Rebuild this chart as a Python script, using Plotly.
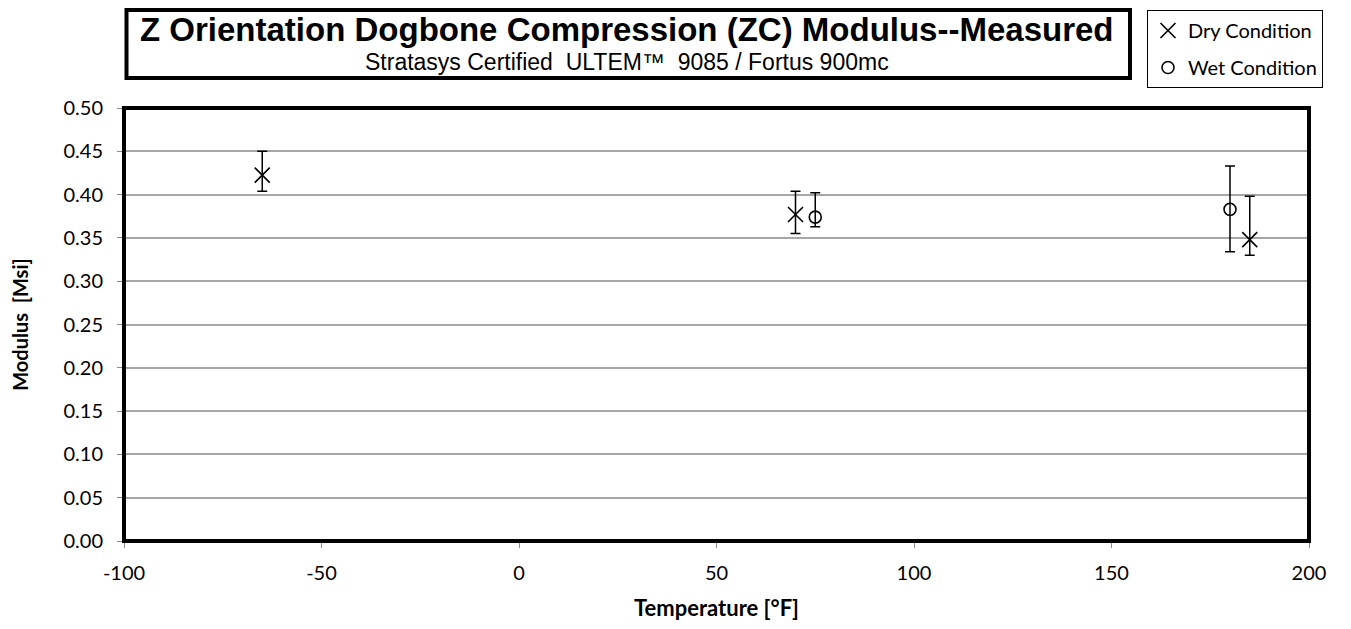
import plotly.graph_objects as go

# Dry condition
dry_temp = [-65, 70, 185]
dry_mod = [0.4225, 0.377, 0.348]
dry_hi = [0.450, 0.404, 0.398]
dry_lo = [0.404, 0.355, 0.330]

# Wet condition
wet_temp = [75, 180]
wet_mod = [0.374, 0.383]
wet_hi = [0.402, 0.433]
wet_lo = [0.363, 0.334]

x_ticks = [-100, -50, 0, 50, 100, 150, 200]
x_ticktext = ["-100", "-50", "0", "50", "100", "150", "200"]

# the page body has an 8px margin, so the figure is drawn 8px smaller
OFF = 8
W, H = 1351 - 2 * OFF, 629 - 2 * OFF
PL, PT, PR, PB = 124, 108, 1309, 541   # plot edges in screen pixels
pw, ph = PR - PL, PB - PT


def px(x):
    return (x - PL) / pw


def py(y):
    return (PB - y) / ph


def err(mid, hi, lo):
    return dict(type="data", symmetric=False,
                array=[h - m for h, m in zip(hi, mid)],
                arrayminus=[m - l for m, l in zip(mid, lo)],
                color="black", thickness=1.5, width=5)


fig = go.Figure()
fig.add_trace(go.Scatter(
    x=dry_temp, y=dry_mod, mode="markers", name="Dry Condition",
    legendgroup="dry",
    marker=dict(symbol="x-thin", size=15, color="black",
                line=dict(color="black", width=1.6)),
    error_y=err(dry_mod, dry_hi, dry_lo)))
fig.add_trace(go.Scatter(
    x=wet_temp, y=wet_mod, mode="markers", name="Wet Condition",
    legendgroup="wet",
    marker=dict(symbol="circle-open", size=12, color="black",
                line=dict(color="black", width=1.6)),
    error_y=err(wet_mod, wet_hi, wet_lo)))

sans = "Lato, Open Sans, sans-serif"
tick_font = dict(family=sans, size=20, color="black")

fig.update_layout(
    width=W, height=H,
    margin=dict(l=PL - OFF, r=W - (PR - OFF), t=PT - OFF, b=H - (PB - OFF), autoexpand=False),
    plot_bgcolor="white", paper_bgcolor="white",
    showlegend=True,
    legend=dict(x=px(1147), y=py(10), xanchor="left", yanchor="top",
                bordercolor="black", borderwidth=1, bgcolor="white",
                font=dict(family=sans, size=20, color="black"),
                tracegroupgap=8, itemwidth=30),
    xaxis=dict(range=[-100, 200], tickvals=x_ticks, ticktext=x_ticktext, tickfont=tick_font,
               showgrid=False, zeroline=False,
               showline=True, linecolor="#888888", linewidth=1,
               ticks="outside", ticklen=6, tickcolor="#888888", ticklabelstandoff=8,
               title=dict(text="<b>Temperature [°F]</b>", standoff=21,
                          font=dict(family=sans, size=22, color="black"))),
    yaxis=dict(range=[0, 0.5], dtick=0.05, tickformat=".2f", tickfont=tick_font,
               showgrid=True, gridcolor="#a6a6a6", gridwidth=1.5, zeroline=False,
               showline=True, linecolor="#888888", linewidth=1,
               ticks="outside", ticklen=6, tickcolor="#888888", ticklabelstandoff=10,
               title=dict(text="<b>Modulus  [Msi]</b>", standoff=34,
                          font=dict(family=sans, size=20, color="black"))),
    shapes=[
        # plot frame
        dict(type="rect", xref="paper", yref="paper", x0=0, x1=1, y0=0, y1=1,
             line=dict(color="black", width=4), layer="above"),
        # title box
        dict(type="rect", xref="paper", yref="paper", x0=px(126.5), x1=px(1130), y0=py(78), y1=py(10),
             line=dict(color="black", width=4)),
    ],
    annotations=[
        dict(text="<b>Z Orientation Dogbone Compression (ZC) Modulus--Measured</b>",
             xref="paper", yref="paper", x=px(627), y=py(29), xanchor="center", yanchor="middle",
             showarrow=False,
             font=dict(family="Liberation Sans, Arial, sans-serif", size=33, color="black")),
        dict(text="Stratasys Certified  ULTEM™  9085 / Fortus 900mc",
             xref="paper", yref="paper", x=px(627), y=py(62), xanchor="center", yanchor="middle",
             showarrow=False,
             font=dict(family="Liberation Sans, Arial, sans-serif", size=23, color="black")),
    ],
)

fig.write_html("out.html")
